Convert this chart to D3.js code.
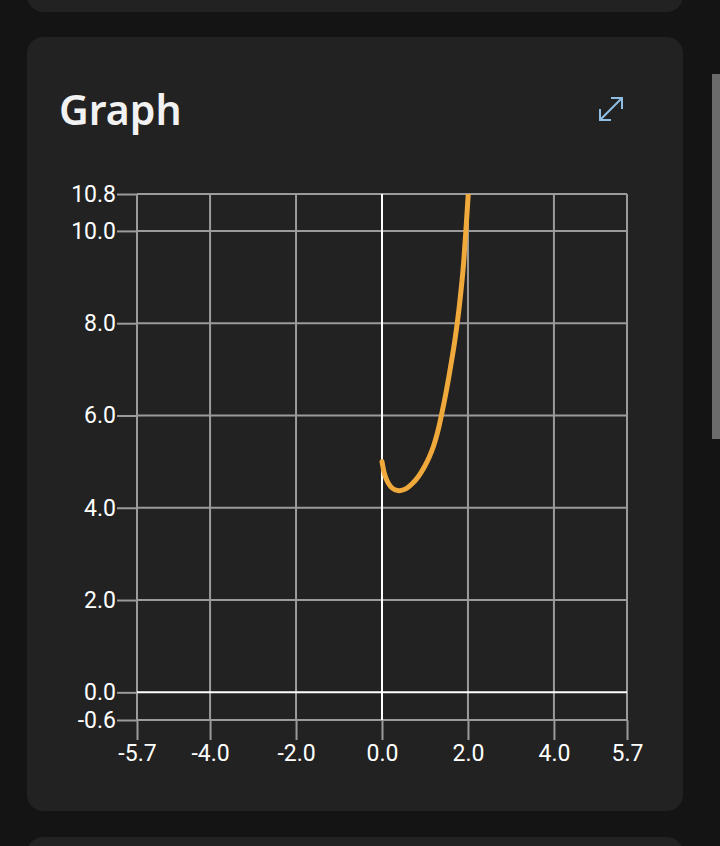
<!DOCTYPE html>
<html>
<head>
<meta charset="utf-8">
<script src="https://cdn.jsdelivr.net/npm/d3@7"></script>
<style>
  html, body { margin: 0; padding: 0; background: #141414; }
  svg { display: block; }
</style>
</head>
<body>
<svg id="chart" width="720" height="846"></svg>
<script>
// ---- data ----
const title = "Graph";
const xDomain = [-5.7, 5.7];
const yDomain = [-0.6, 10.8];
const xTicks = [-5.7, -4.0, -2.0, 0.0, 2.0, 4.0, 5.7];
const yTicks = [-0.6, 0.0, 2.0, 4.0, 6.0, 8.0, 10.0, 10.8];
const curveX = [0.00, 0.05, 0.10, 0.20, 0.30, 0.40, 0.50, 0.60, 0.70, 0.80, 0.90, 1.00, 1.10, 1.20, 1.30, 1.40, 1.50, 1.60, 1.70, 1.80, 1.90, 1.95, 2.00, 2.05];
const curveY = [5.00, 4.76, 4.62, 4.46, 4.39, 4.37, 4.39, 4.44, 4.52, 4.62, 4.75, 4.91, 5.10, 5.34, 5.66, 6.08, 6.55, 7.08, 7.66, 8.38, 9.32, 9.98, 10.70, 11.45];

(function () {
const svg = d3.select("#chart");

// background cards
svg.append("rect").attr("x", 27).attr("y", -40).attr("width", 656).attr("height", 52)
  .attr("rx", 16).attr("fill", "#222222");
svg.append("rect").attr("x", 27).attr("y", 37).attr("width", 656).attr("height", 774)
  .attr("rx", 16).attr("fill", "#222222");
svg.append("rect").attr("x", 27).attr("y", 837).attr("width", 656).attr("height", 60)
  .attr("rx", 16).attr("fill", "#222222");
// scrollbar
svg.append("rect").attr("x", 712).attr("y", 74).attr("width", 8).attr("height", 365)
  .attr("fill", "#6b6b6b");

// title
svg.append("text").attr("x", 59).attr("y", 125).text(title)
  .attr("fill", "#f2f2f2").attr("font-family", "'Noto Sans', 'Open Sans', sans-serif")
  .attr("font-weight", 600).attr("font-size", 41);

// expand icon
const icon = svg.append("g").attr("stroke", "#8fbde3").attr("stroke-width", 2)
  .attr("fill", "none").attr("stroke-linecap", "square");
icon.append("line").attr("x1", 600.5).attr("y1", 119.5).attr("x2", 621.5).attr("y2", 98.5);
icon.append("polyline").attr("points", "612,98 622,98 622,108");
icon.append("polyline").attr("points", "600,110 600,120 610,120");

// scales
const pL = 137, pR = 627, pT = 194, pB = 720;
const x = d3.scaleLinear().domain(xDomain).range([pL, pR]);
const y = d3.scaleLinear().domain(yDomain).range([pB, pT]);
const fmt = d => d.toFixed(1);
const gridColor = "#9b9b9b";

// grid lines
svg.append("g").selectAll("line").data(xTicks.filter(d => d !== 0)).join("line")
  .attr("x1", d => x(d)).attr("x2", d => x(d)).attr("y1", pT).attr("y2", pB)
  .attr("stroke", gridColor).attr("stroke-width", 2);
svg.append("g").selectAll("line").data(yTicks.filter(d => d !== 0)).join("line")
  .attr("y1", d => y(d)).attr("y2", d => y(d)).attr("x1", pL).attr("x2", pR)
  .attr("stroke", gridColor).attr("stroke-width", 2);

// axes
const xAxis = svg.append("g").attr("transform", `translate(0,${pB})`)
  .call(d3.axisBottom(x).tickValues(xTicks).tickFormat(fmt).tickSize(20).tickPadding(5));
const yAxis = svg.append("g").attr("transform", `translate(${pL},0)`)
  .call(d3.axisLeft(y).tickValues(yTicks).tickFormat(fmt).tickSize(20).tickPadding(1));
[xAxis, yAxis].forEach(a => {
  a.select(".domain").remove();
  a.selectAll(".tick line").attr("stroke", gridColor).attr("stroke-width", 2);
  a.selectAll(".tick text").attr("fill", "#ffffff")
    .attr("font-family", "Roboto, 'Noto Sans', sans-serif").attr("font-size", 23);
});

// zero lines (white)
svg.append("line").attr("x1", x(0)).attr("x2", x(0)).attr("y1", pT).attr("y2", pB)
  .attr("stroke", "#ffffff").attr("stroke-width", 2);
svg.append("line").attr("x1", pL).attr("x2", pR).attr("y1", y(0)).attr("y2", y(0))
  .attr("stroke", "#ffffff").attr("stroke-width", 2);

// clip + curve
svg.append("clipPath").attr("id", "plotclip").append("rect")
  .attr("x", pL).attr("y", pT).attr("width", pR - pL).attr("height", pB - pT);
const pts = curveX.map((d, i) => [d, curveY[i]]);
svg.append("path").datum(pts)
  .attr("clip-path", "url(#plotclip)")
  .attr("d", d3.line().x(d => x(d[0])).y(d => y(d[1])).curve(d3.curveMonotoneX))
  .attr("fill", "none").attr("stroke", "#f0a93b").attr("stroke-width", 5)
  .attr("stroke-linecap", "round");
})();
</script>
</body>
</html>
